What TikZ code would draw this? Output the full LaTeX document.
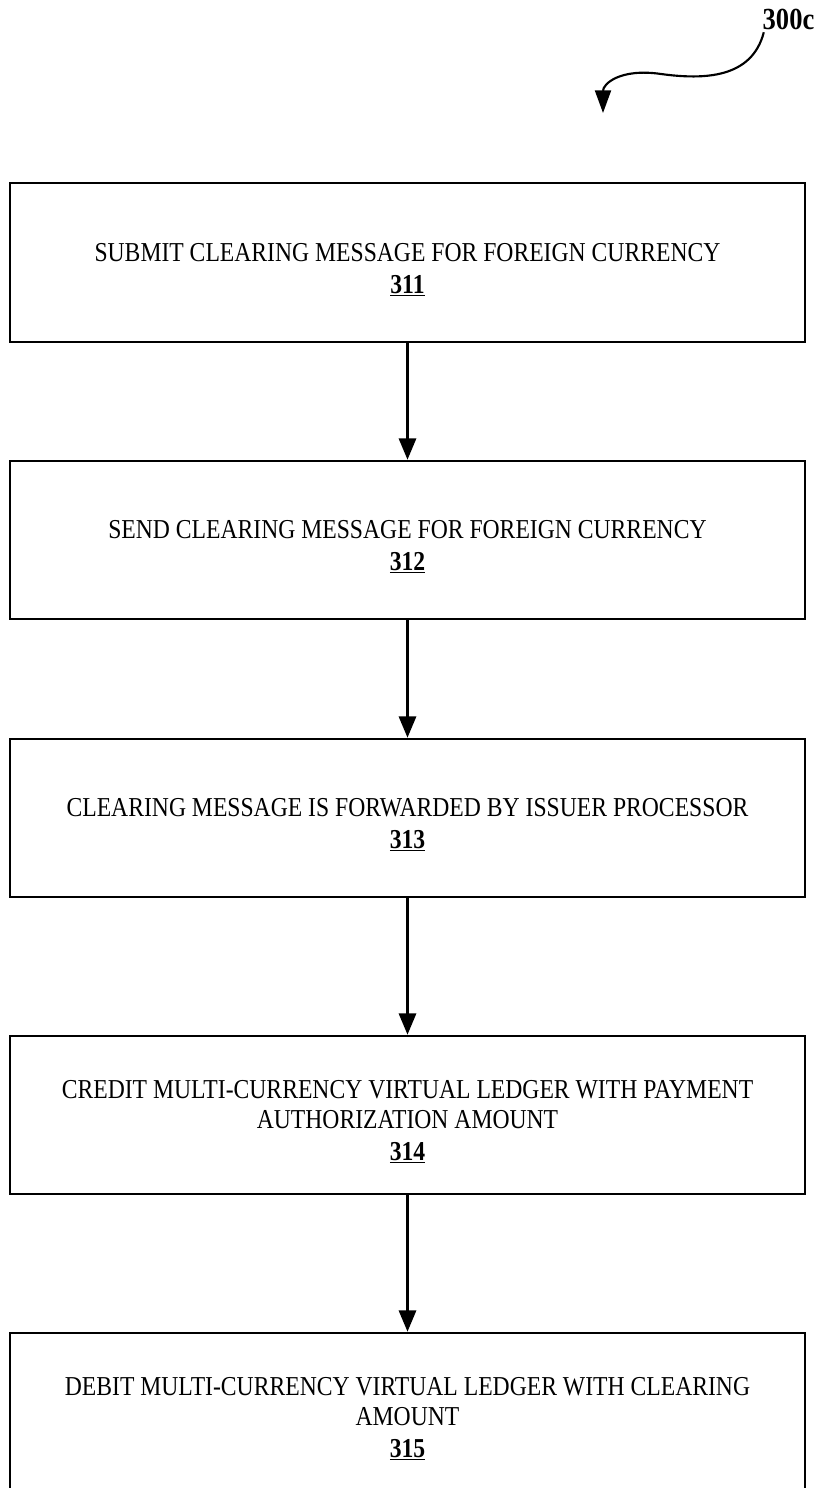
\documentclass[tikz,border=0pt]{standalone}
\usepackage{fontspec}
\setmainfont{Liberation Serif}[FakeStretch=0.865]
\usetikzlibrary{arrows.meta}
\newcommand{\topgap}{\rule{0pt}{24pt}}
\begin{document}
\begin{tikzpicture}[x=0.75pt,y=-0.75pt,
  stepbox/.style={draw=black, line width=1.5pt, minimum width=596.25pt,
    minimum height=119pt, align=center, inner sep=0pt,
    font=\fontsize{20.5}{22.5}\selectfont},
  flow/.style={-{Triangle[length=16pt,width=13pt]}, line width=1.6pt},
  refarrow/.style={-{Triangle[length=17pt,width=12pt]}, line width=1.6pt},
  reflabel/.style={font=\bfseries\fontsize{23}{24}\selectfont, inner sep=0pt}
]
\useasboundingbox (0,0) rectangle (823,1488);

% figure reference with its curved pointer
\node[reflabel] (lbl) at (788.5,19) {300c};
\coordinate (tipc) at (603,113);
\draw[refarrow] ([xshift=1pt,yshift=-2pt]lbl.south west)
  .. controls (752,78) and (705,80) .. (661,74)
  .. controls (620,68) and (603,84) .. (tipc);

% process steps
\node[stepbox] (s311) at (407.5,262.5)
  {\topgap SUBMIT CLEARING MESSAGE FOR FOREIGN CURRENCY\\[1.5pt]\textbf{\underline{311}}};
\node[stepbox] (s312) at (407.5,540)
  {\topgap SEND CLEARING MESSAGE FOR FOREIGN CURRENCY\\[1.5pt]\textbf{\underline{312}}};
\node[stepbox] (s313) at (407.5,818)
  {\topgap CLEARING MESSAGE IS FORWARDED BY ISSUER PROCESSOR\\[1.5pt]\textbf{\underline{313}}};
\node[stepbox] (s314) at (407.5,1115)
  {\topgap CREDIT MULTI-CURRENCY VIRTUAL LEDGER WITH PAYMENT\\AUTHORIZATION AMOUNT\\[1.5pt]\textbf{\underline{314}}};
\node[stepbox] (s315) at (407.5,1412)
  {\topgap DEBIT MULTI-CURRENCY VIRTUAL LEDGER WITH CLEARING\\AMOUNT\\[1.5pt]\textbf{\underline{315}}};

% flow between steps
\draw[flow] (s311) -- (s312);
\draw[flow] (s312) -- (s313);
\draw[flow] (s313) -- (s314);
\draw[flow] (s314) -- (s315);
\end{tikzpicture}
\end{document}
